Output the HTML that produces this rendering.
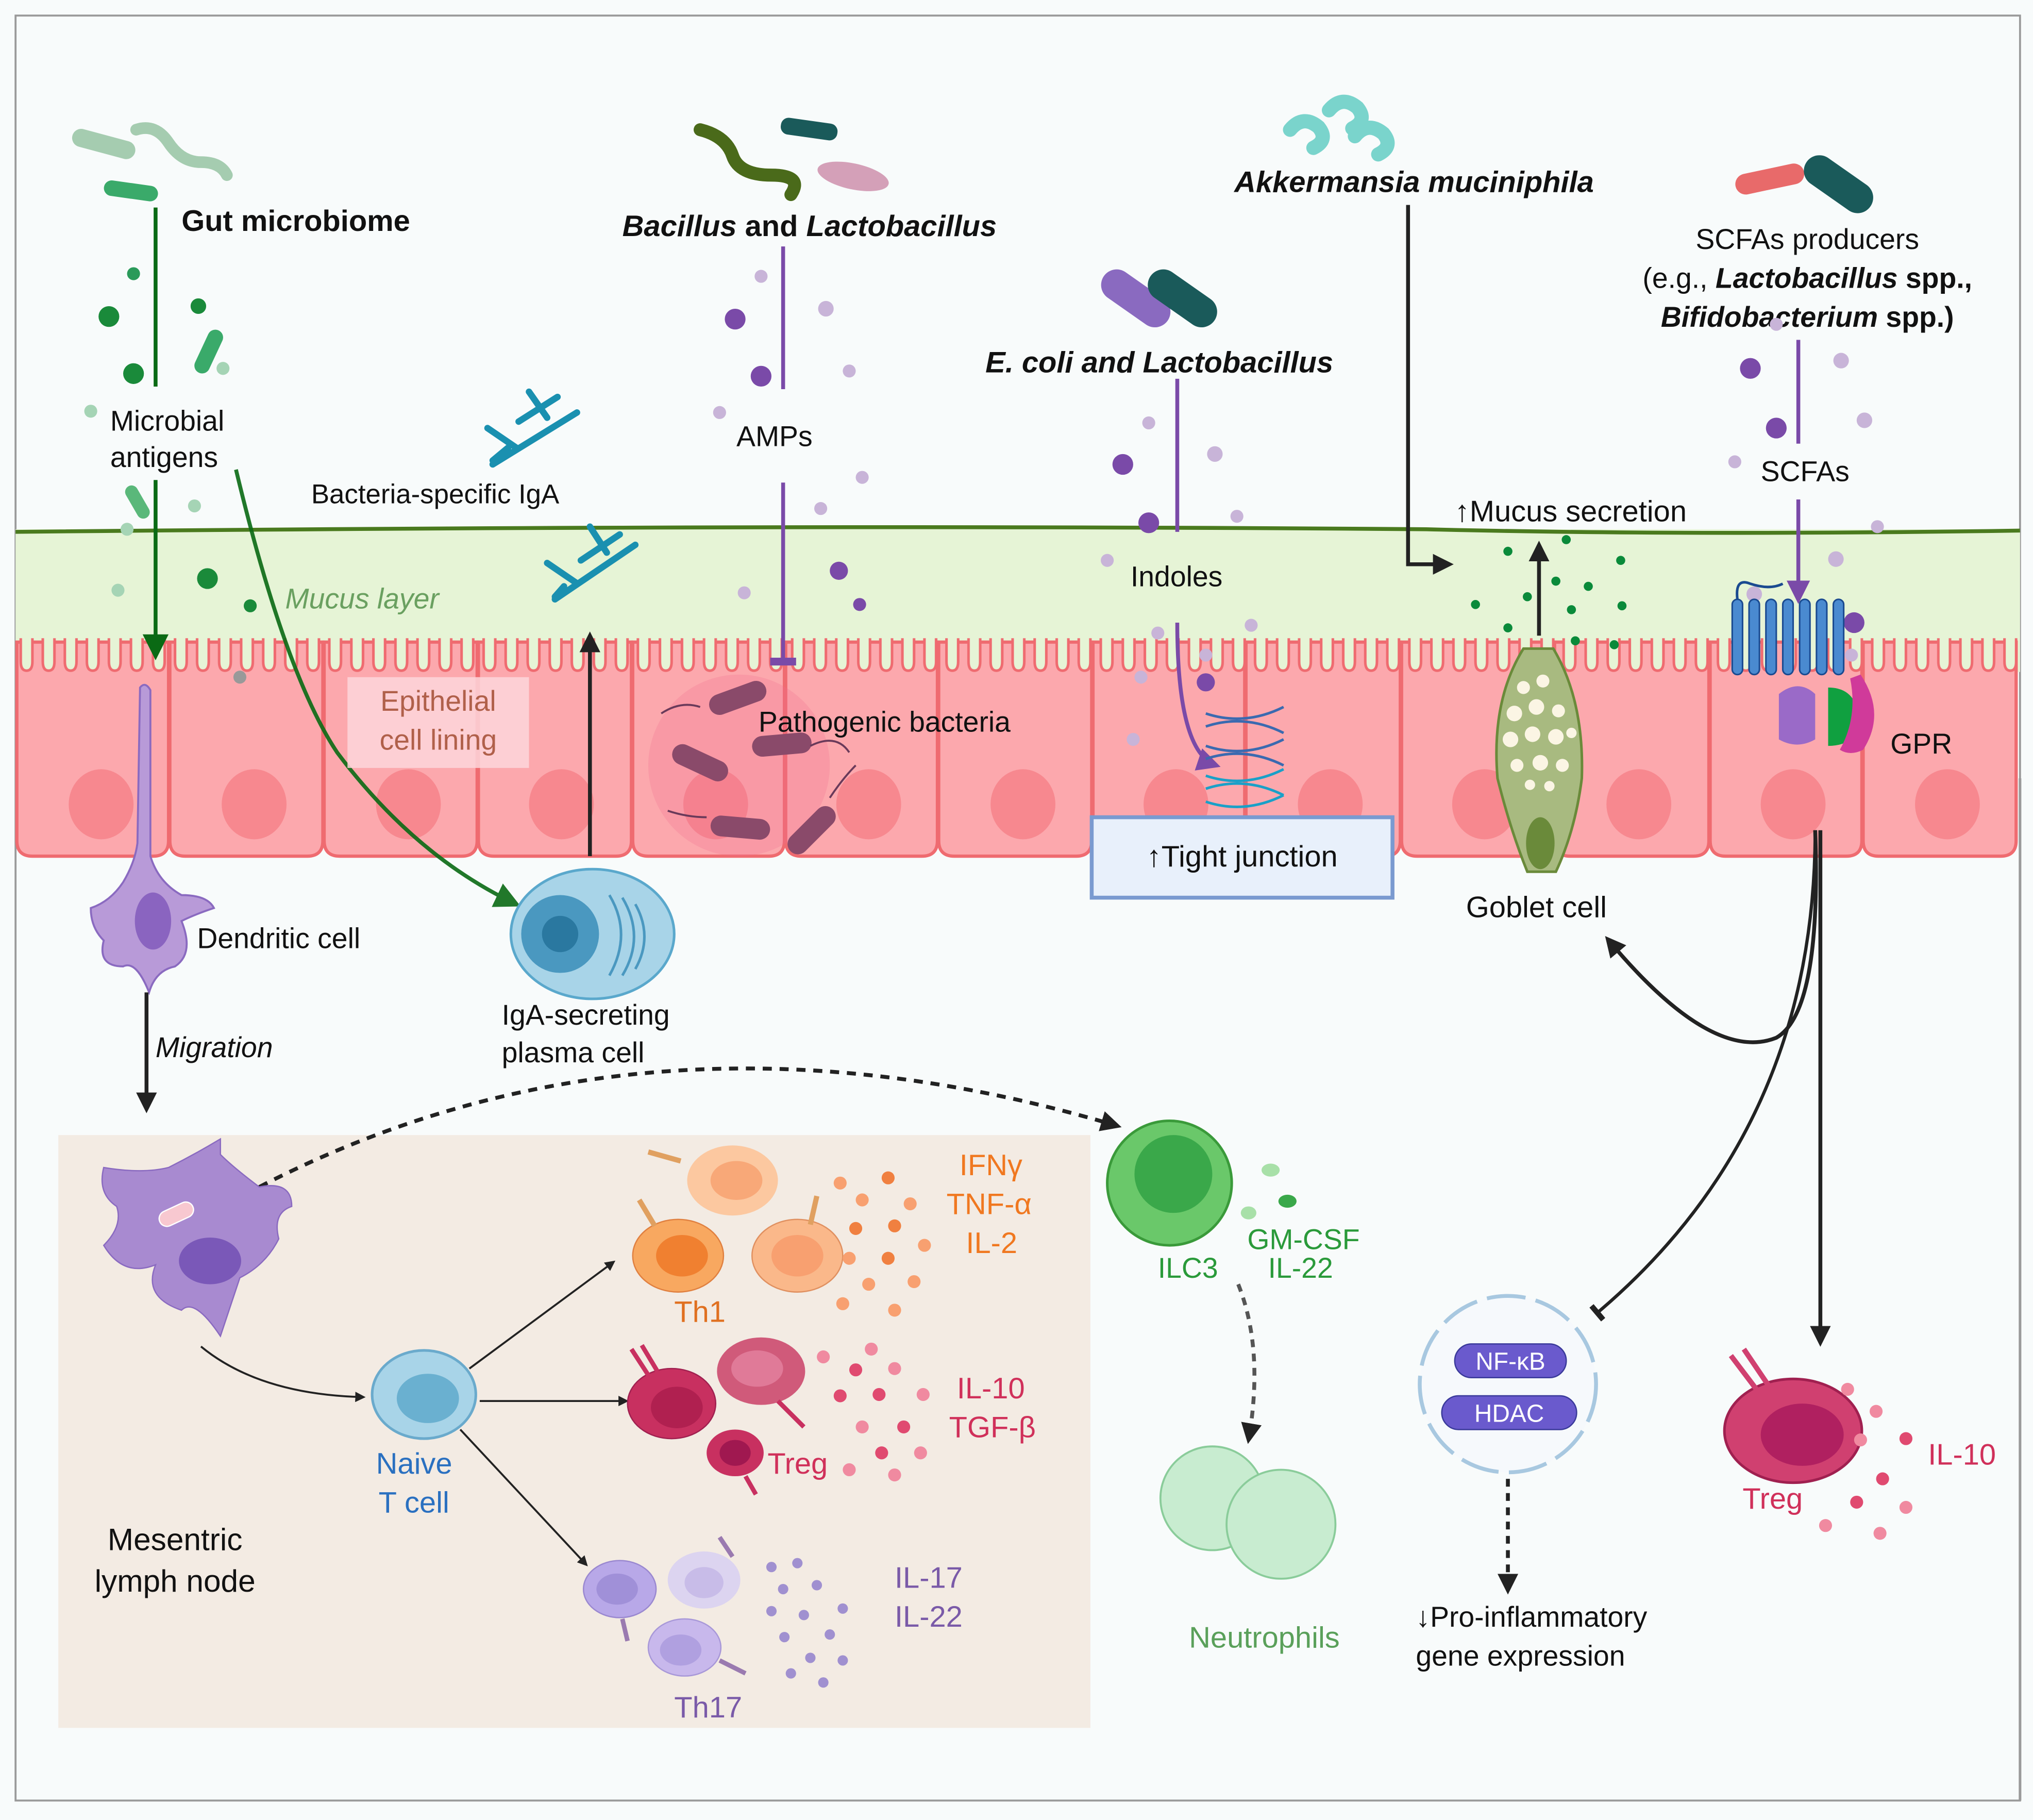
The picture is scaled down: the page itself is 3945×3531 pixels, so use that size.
<!DOCTYPE html>
<html><head><meta charset="utf-8"><style>
html,body{margin:0;padding:0;background:#fff}
svg{display:block}
text{font-family:"Liberation Sans",sans-serif}
</style></head><body>
<svg width="3945" height="3531" viewBox="0 0 1568 1403" preserveAspectRatio="none" xmlns="http://www.w3.org/2000/svg">
<defs>
<marker id="ab" markerWidth="8" markerHeight="8" refX="6" refY="4" orient="auto" markerUnits="userSpaceOnUse"><path d="M0,0 L8,4 L0,8z" fill="#222"/></marker>
<marker id="abk" viewBox="0 0 10 10" markerWidth="16" markerHeight="16" refX="8" refY="5" orient="auto" markerUnits="userSpaceOnUse"><path d="M0,0 L10,5 L0,10z" fill="#222"/></marker>
<marker id="ag" viewBox="0 0 10 10" markerWidth="20" markerHeight="20" refX="8" refY="5" orient="auto" markerUnits="userSpaceOnUse"><path d="M0,0 L10,5 L0,10z" fill="#0a6a14"/></marker>
<marker id="ap" viewBox="0 0 10 10" markerWidth="18" markerHeight="18" refX="8" refY="5" orient="auto" markerUnits="userSpaceOnUse"><path d="M0,0 L10,5 L0,10z" fill="#7a4aa8"/></marker>
<marker id="tb" viewBox="0 0 10 10" markerWidth="14" markerHeight="14" refX="5" refY="5" orient="auto" markerUnits="userSpaceOnUse"><path d="M5,0 L5,10" stroke="#222" stroke-width="3"/></marker>
<marker id="tp" viewBox="0 0 10 10" markerWidth="20" markerHeight="20" refX="5" refY="5" orient="auto" markerUnits="userSpaceOnUse"><path d="M5,0 L5,10" stroke="#7a4aa8" stroke-width="3"/></marker>
<pattern id="vil" x="12" y="0" width="17" height="40" patternUnits="userSpaceOnUse">
<path d="M4,492 L4,510 Q4,517 8.5,517 Q13,517 13,510 L13,492" fill="#e6f4d6" stroke="#ef6b70" stroke-width="2" transform="translate(0,-480)"/>
</pattern>
</defs>
<rect width="1568" height="1403" fill="#f8fbfb"/>
<rect x="12" y="12" width="1546" height="1376" fill="#f8fbfb" stroke="#9a9a9a" stroke-width="1.5"/>
<!-- mucus -->
<rect x="12" y="408" width="1546" height="110" fill="#e6f4d6"/>
<path d="M12,410 Q600,404 1100,408 Q1300,413 1558,409" stroke="#4a7a1e" stroke-width="3" fill="none"/>
<!-- cells -->
<g fill="#fca8ad" stroke="#ef6b70" stroke-width="2.5">
<path d="M13,495 L130,495 L130,648 Q130,660 118,660 L25,660 Q13,660 13,648z"/>
<path d="M131,495 L249,495 L249,648 Q249,660 237,660 L143,660 Q131,660 131,648z"/>
<path d="M250,495 L368,495 L368,648 Q368,660 356,660 L262,660 Q250,660 250,648z"/>
<path d="M369,495 L487,495 L487,648 Q487,660 475,660 L381,660 Q369,660 369,648z"/>
<path d="M488,495 L605,495 L605,648 Q605,660 593,660 L500,660 Q488,660 488,648z"/>
<path d="M606,495 L723,495 L723,648 Q723,660 711,660 L618,660 Q606,660 606,648z"/>
<path d="M724,495 L842,495 L842,648 Q842,660 830,660 L736,660 Q724,660 724,648z"/>
<path d="M843,495 L960,495 L960,648 Q960,660 948,660 L855,660 Q843,660 843,648z"/>
<path d="M961,495 L1080,495 L1080,648 Q1080,660 1068,660 L973,660 Q961,660 961,648z"/>
<path d="M1081,495 L1198,495 L1198,648 Q1198,660 1186,660 L1093,660 Q1081,660 1081,648z"/>
<path d="M1199,495 L1318,495 L1318,648 Q1318,660 1306,660 L1211,660 Q1199,660 1199,648z"/>
<path d="M1319,495 L1436,495 L1436,648 Q1436,660 1424,660 L1331,660 Q1319,660 1319,648z"/>
<path d="M1437,495 L1555,495 L1555,648 Q1555,660 1543,660 L1449,660 Q1437,660 1437,648z"/>
</g>
<rect x="12" y="490" width="1544" height="40" fill="url(#vil)"/>
<g fill="#f7888f">
<ellipse cx="78" cy="620" rx="25" ry="27"/><ellipse cx="196" cy="620" rx="25" ry="27"/><ellipse cx="315" cy="620" rx="25" ry="27"/><ellipse cx="433" cy="620" rx="25" ry="27"/><ellipse cx="552" cy="620" rx="25" ry="27"/><ellipse cx="670" cy="620" rx="25" ry="27"/><ellipse cx="789" cy="620" rx="25" ry="27"/><ellipse cx="907" cy="620" rx="25" ry="27"/><ellipse cx="1026" cy="620" rx="25" ry="27"/><ellipse cx="1145" cy="620" rx="25" ry="27"/><ellipse cx="1264" cy="620" rx="25" ry="27"/><ellipse cx="1383" cy="620" rx="25" ry="27"/><ellipse cx="1502" cy="620" rx="25" ry="27"/>
</g>
<path d="M1558,600 L1558,1388" stroke="#9a9a9a" stroke-width="2"/>
<!-- lymph node box -->
<rect x="45" y="875" width="796" height="457" fill="#f3ebe3"/>

<!-- Gut microbiome -->
<rect x="55" y="104" width="50" height="14" rx="7" fill="#a5ccb0" transform="rotate(15 80 111)"/>
<path d="M105,100 q15,-5 25,10 t25,15 t20,10" stroke="#a5ccb0" stroke-width="9" fill="none" stroke-linecap="round"/>
<rect x="80" y="141" width="42" height="12" rx="6" fill="#3aaa6a" transform="rotate(8 100 147)"/>
<text x="140" y="178" font-size="23" font-weight="bold" fill="#111">Gut microbiome</text>
<path d="M120,160 L120,298" stroke="#0a6a14" stroke-width="3"/>
<path d="M120,370 L120,505" stroke="#0a6a14" stroke-width="3" marker-end="url(#ag)"/>
<g fill="#1a8a3a"><circle cx="103" cy="211" r="5" fill="#2a9a5a"/><circle cx="84" cy="244" r="8"/><circle cx="153" cy="236" r="6"/><circle cx="103" cy="288" r="8"/><circle cx="160" cy="446" r="8"/><circle cx="193" cy="467" r="5"/></g>
<g fill="#a5d4b5"><circle cx="172" cy="284" r="5"/><circle cx="70" cy="317" r="5"/><circle cx="150" cy="390" r="5"/><circle cx="98" cy="408" r="5"/><circle cx="91" cy="455" r="5"/><circle cx="185" cy="522" r="5" fill="#999"/></g>
<rect x="143" y="265" width="36" height="12" rx="6" fill="#3aaa6a" transform="rotate(-65 161 271)"/>
<rect x="92" y="382" width="28" height="10" rx="5" fill="#5ab87a" transform="rotate(60 106 387)"/>
<text x="85" y="332" font-size="22" fill="#111">Microbial</text>
<text x="85" y="360" font-size="22" fill="#111">antigens</text>
<path d="M182,362 Q220,520 260,580 Q320,660 398,697" stroke="#0a6a14" stroke-width="3" fill="none" marker-end="url(#ag)" opacity="0.9"/>
<text x="220" y="469" font-size="22" font-style="italic" fill="#6aa060">Mucus layer</text>
<!-- Epithelial label -->
<rect x="268" y="522" width="140" height="70" fill="#fdd6da" opacity="0.85"/>
<text x="338" y="548" font-size="22" fill="#b0604a" text-anchor="middle">Epithelial</text>
<text x="338" y="578" font-size="22" fill="#b0604a" text-anchor="middle">cell lining</text>
<!-- IgA -->
<g stroke="#1a90b0" stroke-width="5" stroke-linecap="round" fill="none">
<path d="M380,358 L445,318 M376,330 L398,345 M408,302 L422,322 M400,325 L430,306 M392,345 L380,355"/>
<path d="M428,462 L490,420 M422,434 L444,449 M455,406 L468,426 M448,432 L478,412 M435,452 L428,460"/>
</g>
<text x="240" y="388" font-size="21" fill="#111">Bacteria-specific IgA</text>
<path d="M455,660 L455,490" stroke="#222" stroke-width="3" marker-end="url(#abk)"/>
<!-- dendritic cell epith -->
<path d="M108,530 Q112,525 116,532 L116,660 Q122,680 140,690 Q160,690 165,700 Q150,705 140,710 Q150,735 135,745 Q120,748 115,765 Q105,740 95,745 Q75,745 80,725 Q70,715 70,700 Q85,695 95,680 Q104,665 106,650z" fill="#b89ad8" stroke="#8a6ac0" stroke-width="1.5"/>
<ellipse cx="118" cy="710" rx="14" ry="22" fill="#8a64c0"/>
<text x="152" y="731" font-size="22" fill="#111">Dendritic cell</text>
<path d="M113,765 L113,855" stroke="#222" stroke-width="3" marker-end="url(#abk)"/>
<text x="120" y="815" font-size="22" font-style="italic" fill="#111">Migration</text>
<!-- plasma cell -->
<ellipse cx="457" cy="720" rx="63" ry="50" fill="#a8d4e8" stroke="#5aa8cc" stroke-width="2"/>
<circle cx="432" cy="720" r="30" fill="#4a98c0"/>
<circle cx="432" cy="720" r="14" fill="#2a78a0"/>
<path d="M470,690 q18,30 0,62 M480,692 q18,30 0,60 M490,697 q14,25 0,50" stroke="#4a98c0" stroke-width="2" fill="none"/>
<text x="387" y="790" font-size="22" fill="#111">IgA-secreting</text>
<text x="387" y="819" font-size="22" fill="#111">plasma cell</text>
<!-- Bacillus -->
<path d="M540,100 q20,5 25,20 t30,15 t15,15" stroke="#4a6a1a" stroke-width="10" fill="none" stroke-linecap="round"/>
<rect x="602" y="93" width="44" height="13" rx="6" fill="#1a5a5a" transform="rotate(8 624 100)"/>
<ellipse cx="658" cy="136" rx="28" ry="10" fill="#d4a0b8" transform="rotate(12 658 136)"/>
<text x="480" y="182" font-size="23" font-weight="bold" fill="#111"><tspan font-style="italic">Bacillus</tspan> and <tspan font-style="italic">Lactobacillus</tspan></text>
<path d="M604,190 L604,300" stroke="#7a4aa8" stroke-width="3"/>
<path d="M604,372 L604,510" stroke="#7a4aa8" stroke-width="3" marker-end="url(#tp)"/>
<g fill="#7a4aa8"><circle cx="567" cy="246" r="8"/><circle cx="587" cy="290" r="8"/><circle cx="647" cy="440" r="7"/><circle cx="663" cy="466" r="5"/></g>
<g fill="#c8b4d8"><circle cx="587" cy="213" r="5"/><circle cx="637" cy="238" r="6"/><circle cx="655" cy="286" r="5"/><circle cx="555" cy="318" r="5"/><circle cx="665" cy="368" r="5"/><circle cx="633" cy="392" r="5"/><circle cx="574" cy="457" r="5"/></g>
<text x="568" y="344" font-size="22" fill="#111">AMPs</text>
<!-- pathogenic bacteria -->
<ellipse cx="570" cy="590" rx="70" ry="70" fill="#f06a90" opacity="0.25"/>
<g fill="#8a4a6a">
<rect x="546" y="530" width="46" height="16" rx="8" transform="rotate(-20 569 538)"/>
<rect x="517" y="580" width="46" height="16" rx="8" transform="rotate(25 540 588)"/>
<rect x="580" y="566" width="46" height="16" rx="8" transform="rotate(-5 603 574)"/>
<rect x="548" y="630" width="46" height="16" rx="8" transform="rotate(5 571 638)"/>
<rect x="603" y="632" width="46" height="16" rx="8" transform="rotate(-45 626 640)"/>
</g>
<path d="M510,550 q15,-10 30,-5 M515,625 q15,5 30,5 M625,575 q20,-10 30,5 M640,615 q10,-15 20,-25" stroke="#6a3a5a" stroke-width="1.5" fill="none"/>
<text x="585" y="564" font-size="22" fill="#111">Pathogenic bacteria</text>
<!-- E coli -->
<rect x="846" y="218" width="60" height="24" rx="12" fill="#8a6ac0" transform="rotate(35 876 230)"/>
<rect x="882" y="218" width="60" height="24" rx="12" fill="#1a5a5a" transform="rotate(35 912 230)"/>
<text x="760" y="287" font-size="23" font-weight="bold" font-style="italic" fill="#111">E. coli and Lactobacillus</text>
<path d="M908,292 L908,410" stroke="#7a4aa8" stroke-width="3"/>
<path d="M908,480 Q908,580 938,590" stroke="#7a4aa8" stroke-width="3" fill="none" marker-end="url(#ap)"/>
<g fill="#7a4aa8"><circle cx="866" cy="358" r="8"/><circle cx="886" cy="403" r="8"/><circle cx="930" cy="526" r="7"/></g>
<g fill="#c8b4d8"><circle cx="886" cy="326" r="5"/><circle cx="937" cy="350" r="6"/><circle cx="954" cy="398" r="5"/><circle cx="854" cy="432" r="5"/><circle cx="893" cy="488" r="5"/><circle cx="965" cy="482" r="5"/><circle cx="880" cy="522" r="5"/><circle cx="874" cy="570" r="5"/><circle cx="930" cy="505" r="5"/></g>
<text x="872" y="452" font-size="22" fill="#111">Indoles</text>
<g stroke="#3a6ab0" stroke-width="2" fill="none"><path d="M930,550 q30,10 60,-5 M930,560 q30,-10 60,5 M930,575 q30,10 60,-5 M930,585 q30,-10 60,5"/></g>
<g stroke="#1aa0c8" stroke-width="2" fill="none"><path d="M930,598 q30,10 60,-5 M930,608 q30,-10 60,5 M930,618 q30,10 60,-5"/></g>
<rect x="842" y="630" width="232" height="62" fill="#e8f0fb" stroke="#7a9ad0" stroke-width="3"/>
<text x="958" y="668" font-size="23" fill="#111" text-anchor="middle">↑Tight junction</text>
<!-- Akkermansia -->
<g stroke="#7ad4cc" stroke-width="11" fill="none" stroke-linecap="round"><path d="M995,100 q10,-12 22,-2 q8,10 -4,16"/><path d="M1025,85 q10,-12 22,-2 q8,10 -4,16"/><path d="M1045,105 q10,-12 22,-2 q8,10 -4,16"/></g>
<text x="952" y="148" font-size="23" font-weight="bold" font-style="italic" fill="#111">Akkermansia muciniphila</text>
<path d="M1086,158 L1086,435 L1118,435" stroke="#222" stroke-width="3" fill="none" marker-end="url(#abk)"/>
<text x="1122" y="402" font-size="23" fill="#111">↑Mucus secretion</text>
<path d="M1187,490 L1187,420" stroke="#222" stroke-width="3" marker-end="url(#abk)"/>
<g fill="#0a8a3a"><circle cx="1163" cy="425" r="3.5"/><circle cx="1208" cy="416" r="3.5"/><circle cx="1250" cy="432" r="3.5"/><circle cx="1200" cy="448" r="3.5"/><circle cx="1225" cy="452" r="3.5"/><circle cx="1138" cy="466" r="3.5"/><circle cx="1178" cy="460" r="3.5"/><circle cx="1212" cy="470" r="3.5"/><circle cx="1251" cy="467" r="3.5"/><circle cx="1163" cy="484" r="3.5"/><circle cx="1215" cy="494" r="3.5"/><circle cx="1245" cy="497" r="3.5"/><circle cx="1188" cy="508" r="3.5"/></g>
<!-- goblet -->
<path d="M1175,500 Q1150,540 1155,600 Q1165,640 1178,672 L1200,672 Q1215,640 1220,600 Q1222,540 1198,500z" fill="#a8ba80" stroke="#6a8a3a" stroke-width="2"/>
<g fill="#fbf5e4"><circle cx="1175" cy="530" r="5"/><circle cx="1190" cy="525" r="5"/><circle cx="1168" cy="550" r="6"/><circle cx="1185" cy="545" r="6"/><circle cx="1202" cy="548" r="5"/><circle cx="1165" cy="570" r="6"/><circle cx="1182" cy="566" r="6"/><circle cx="1200" cy="568" r="6"/><circle cx="1212" cy="565" r="4"/><circle cx="1170" cy="590" r="5"/><circle cx="1188" cy="588" r="6"/><circle cx="1205" cy="590" r="5"/><circle cx="1180" cy="605" r="4"/><circle cx="1195" cy="606" r="4"/></g>
<ellipse cx="1188" cy="650" rx="11" ry="20" fill="#6a8a3a"/>
<text x="1185" y="707" font-size="23" fill="#111" text-anchor="middle">Goblet cell</text>
<!-- SCFA -->
<rect x="1338" y="130" width="54" height="16" rx="8" fill="#e86a6a" transform="rotate(-12 1365 138)"/>
<rect x="1388" y="130" width="60" height="24" rx="12" fill="#1a5a5a" transform="rotate(35 1418 142)"/>
<text x="1394" y="192" font-size="22" fill="#111" text-anchor="middle">SCFAs producers</text>
<text x="1394" y="222" font-size="22" fill="#111" text-anchor="middle">(e.g.,  <tspan font-weight="bold" font-style="italic">Lactobacillus</tspan><tspan font-weight="bold"> spp.,</tspan></text>
<text x="1394" y="252" font-size="22" fill="#111" text-anchor="middle"><tspan font-weight="bold" font-style="italic">Bifidobacterium</tspan><tspan font-weight="bold"> spp.)</tspan></text>
<path d="M1387,262 L1387,342" stroke="#7a4aa8" stroke-width="3"/>
<path d="M1387,385 L1387,462" stroke="#7a4aa8" stroke-width="3" marker-end="url(#ap)"/>
<text x="1358" y="371" font-size="22" fill="#111">SCFAs</text>
<g fill="#7a4aa8"><circle cx="1350" cy="284" r="8"/><circle cx="1370" cy="330" r="8"/><circle cx="1430" cy="480" r="8"/></g>
<g fill="#c8b4d8"><circle cx="1370" cy="250" r="5"/><circle cx="1420" cy="278" r="6"/><circle cx="1438" cy="324" r="6"/><circle cx="1338" cy="356" r="5"/><circle cx="1448" cy="406" r="5"/><circle cx="1416" cy="431" r="6"/><circle cx="1353" cy="458" r="6"/><circle cx="1428" cy="505" r="5"/></g>
<g fill="#4a8ad0" stroke="#1a4a90" stroke-width="1.2"><rect x="1336" y="462" width="8" height="58" rx="4"/><rect x="1349" y="462" width="8" height="58" rx="4"/><rect x="1362" y="462" width="8" height="58" rx="4"/><rect x="1375" y="462" width="8" height="58" rx="4"/><rect x="1388" y="462" width="8" height="58" rx="4"/><rect x="1401" y="462" width="8" height="58" rx="4"/><rect x="1414" y="462" width="8" height="58" rx="4"/></g>
<path d="M1340,462 Q1338,445 1350,450 Q1365,455 1375,450" stroke="#1a4a90" stroke-width="2" fill="none"/>
<path d="M1372,535 q15,-12 28,0 l0,35 q-14,8 -28,0z" fill="#9a6ac8"/>
<path d="M1410,530 q22,0 24,25 q-2,20 -24,20z" fill="#10a040"/>
<path d="M1435,520 q20,30 2,58 q-10,5 -18,0 q14,-25 8,-55z" fill="#d03a9a"/>
<text x="1458" y="581" font-size="22" fill="#111">GPR</text>
<!-- gray lines from GPR -->
<path d="M1400,640 Q1405,780 1370,800 Q1320,820 1240,724" stroke="#222" stroke-width="3" fill="none" marker-end="url(#abk)"/>
<path d="M1400,640 Q1400,870 1232,1012" stroke="#222" stroke-width="2.5" fill="none" marker-end="url(#tb)"/>
<path d="M1404,640 L1404,1035" stroke="#222" stroke-width="3" marker-end="url(#abk)"/>
<!-- nucleus -->
<circle cx="1163" cy="1067" r="68" fill="#f6f9fc" stroke="#a8c8e0" stroke-width="3" stroke-dasharray="30 8"/>
<rect x="1122" y="1036" width="86" height="26" rx="13" fill="#6a5acd" stroke="#3a3a9a"/>
<text x="1165" y="1056" font-size="19" fill="#fff" text-anchor="middle">NF-κB</text>
<rect x="1112" y="1076" width="104" height="26" rx="13" fill="#6a5acd" stroke="#3a3a9a"/>
<text x="1164" y="1096" font-size="19" fill="#fff" text-anchor="middle">HDAC</text>
<path d="M1163,1140 L1163,1226" stroke="#222" stroke-width="3" stroke-dasharray="6 5" marker-end="url(#abk)"/>
<text x="1092" y="1254" font-size="22" fill="#111">↓Pro-inflammatory</text>
<text x="1092" y="1284" font-size="22" fill="#111">gene expression</text>
<!-- Treg right -->
<ellipse cx="1383" cy="1103" rx="53" ry="40" fill="#d04070" stroke="#a02050" stroke-width="2"/>
<ellipse cx="1390" cy="1106" rx="32" ry="24" fill="#b02060"/>
<path d="M1335,1045 L1360,1078 M1345,1040 L1368,1074" stroke="#d04070" stroke-width="4"/>
<g fill="#f08aa0"><circle cx="1425" cy="1071" r="5"/><circle cx="1447" cy="1088" r="5"/><circle cx="1470" cy="1109" r="5" fill="#e04a70"/><circle cx="1435" cy="1110" r="5"/><circle cx="1452" cy="1140" r="5" fill="#e04a70"/><circle cx="1470" cy="1162" r="5"/><circle cx="1408" cy="1176" r="5"/><circle cx="1432" cy="1158" r="5" fill="#e04a70"/><circle cx="1450" cy="1182" r="5"/></g>
<text x="1487" y="1129" font-size="23" fill="#d0305a">IL-10</text>
<text x="1344" y="1163" font-size="23" fill="#d0305a">Treg</text>
<!-- ILC3 -->
<path d="M200,915 Q500,760 862,868" stroke="#222" stroke-width="3" fill="none" stroke-dasharray="7 6" marker-end="url(#abk)"/>
<circle cx="902" cy="912" r="48" fill="#6ac86a" stroke="#3a9a3a" stroke-width="2"/>
<circle cx="905" cy="905" r="30" fill="#3aa84a"/>
<ellipse cx="980" cy="902" rx="7" ry="5" fill="#a8e0a8"/><ellipse cx="993" cy="926" rx="7" ry="5" fill="#3aa84a"/><ellipse cx="963" cy="935" rx="6" ry="5" fill="#a8e0a8"/>
<text x="893" y="985" font-size="22" fill="#2a9a3a">ILC3</text>
<text x="962" y="963" font-size="22" fill="#2a9a3a">GM-CSF</text>
<text x="978" y="985" font-size="22" fill="#2a9a3a">IL-22</text>
<path d="M955,990 Q975,1040 963,1110" stroke="#555" stroke-width="3" fill="none" stroke-dasharray="6 5" marker-end="url(#abk)"/>
<circle cx="935" cy="1155" r="40" fill="#c8ecd0" stroke="#8acc9a" stroke-width="1.5"/>
<circle cx="988" cy="1175" r="42" fill="#c8ecd0" stroke="#8acc9a" stroke-width="1.5"/>
<text x="917" y="1270" font-size="23" fill="#5aa05a">Neutrophils</text>
<!-- lymph node contents -->
<path d="M170,890 Q180,900 200,915 Q225,910 225,930 Q210,935 215,955 Q205,975 185,985 L170,1030 Q150,1000 140,1010 Q110,1000 120,975 Q95,985 80,960 Q95,945 90,930 Q75,920 80,900 Q110,905 130,900 Q150,890 170,878z" fill="#a88ad0" stroke="#8a6ac0"/>
<ellipse cx="162" cy="972" rx="24" ry="18" fill="#7a58b8"/>
<rect x="122" y="930" width="28" height="12" rx="6" fill="#f8c8d0" stroke="#fff" transform="rotate(-25 136 936)"/>
<path d="M155,1038 Q200,1075 280,1077" stroke="#222" stroke-width="1.5" fill="none" marker-end="url(#ab)"/>
<ellipse cx="327" cy="1075" rx="40" ry="34" fill="#a8d4e8" stroke="#6aaacc" stroke-width="2"/>
<ellipse cx="330" cy="1078" rx="24" ry="19" fill="#6ab0d0"/>
<text x="290" y="1136" font-size="23" fill="#2a70c0">Naive</text>
<text x="292" y="1166" font-size="23" fill="#2a70c0">T cell</text>
<path d="M362,1055 L473,973" stroke="#222" stroke-width="1.5" marker-end="url(#ab)"/>
<path d="M370,1080 L483,1080" stroke="#222" stroke-width="1.5" marker-end="url(#ab)"/>
<path d="M355,1102 L452,1206" stroke="#222" stroke-width="1.5" marker-end="url(#ab)"/>
<!-- Th1 -->
<ellipse cx="565" cy="910" rx="35" ry="27" fill="#fcc8a0"/><ellipse cx="568" cy="910" rx="20" ry="15" fill="#f8a878"/>
<ellipse cx="523" cy="968" rx="35" ry="28" fill="#f8a860" stroke="#e08040"/><ellipse cx="526" cy="968" rx="20" ry="16" fill="#f08030"/>
<ellipse cx="615" cy="968" rx="35" ry="28" fill="#fab88a" stroke="#e09060"/><ellipse cx="615" cy="968" rx="20" ry="16" fill="#f8a070"/>
<path d="M500,888 L525,895 M493,925 L505,945 M630,922 L625,944" stroke="#e0a060" stroke-width="4"/>
<g fill="#f8a070"><circle cx="648" cy="912" r="5"/><circle cx="685" cy="908" r="5" fill="#f08040"/><circle cx="665" cy="925" r="5"/><circle cx="702" cy="928" r="5"/><circle cx="660" cy="947" r="5" fill="#f08040"/><circle cx="690" cy="945" r="5" fill="#f08040"/><circle cx="713" cy="960" r="5"/><circle cx="655" cy="970" r="5"/><circle cx="685" cy="970" r="5" fill="#f08040"/><circle cx="705" cy="988" r="5"/><circle cx="670" cy="990" r="5"/><circle cx="650" cy="1005" r="5"/><circle cx="690" cy="1010" r="5"/></g>
<text x="520" y="1019" font-size="23" fill="#e07020">Th1</text>
<text x="740" y="906" font-size="23" fill="#f07820">IFNγ</text>
<text x="730" y="936" font-size="23" fill="#f07820">TNF-α</text>
<text x="745" y="966" font-size="23" fill="#f07820">IL-2</text>
<!-- Treg -->
<ellipse cx="587" cy="1057" rx="34" ry="26" fill="#d05a7a"/><ellipse cx="584" cy="1055" rx="20" ry="14" fill="#e07a98"/>
<ellipse cx="518" cy="1082" rx="34" ry="27" fill="#c83060" stroke="#a02050"/><ellipse cx="522" cy="1085" rx="20" ry="16" fill="#b02050"/>
<ellipse cx="567" cy="1120" rx="22" ry="18" fill="#c83060"/><ellipse cx="567" cy="1120" rx="12" ry="10" fill="#a01850"/>
<path d="M487,1040 L500,1060 M495,1037 L507,1057 M600,1080 L620,1100 M575,1138 L583,1152" stroke="#c83060" stroke-width="3.5"/>
<g fill="#f08aa0"><circle cx="635" cy="1046" r="5"/><circle cx="672" cy="1040" r="5"/><circle cx="660" cy="1056" r="5" fill="#e04a70"/><circle cx="690" cy="1055" r="5"/><circle cx="648" cy="1076" r="5" fill="#e04a70"/><circle cx="678" cy="1075" r="5" fill="#e04a70"/><circle cx="712" cy="1075" r="5"/><circle cx="665" cy="1100" r="5"/><circle cx="697" cy="1100" r="5" fill="#e04a70"/><circle cx="655" cy="1133" r="5"/><circle cx="680" cy="1120" r="5" fill="#e04a70"/><circle cx="710" cy="1120" r="5"/><circle cx="690" cy="1137" r="5"/></g>
<text x="592" y="1136" font-size="23" fill="#d0305a">Treg</text>
<text x="738" y="1078" font-size="23" fill="#d0305a">IL-10</text>
<text x="732" y="1108" font-size="23" fill="#d0305a">TGF-β</text>
<!-- Th17 -->
<ellipse cx="478" cy="1225" rx="28" ry="22" fill="#b8a8e8" stroke="#9a88d0"/><ellipse cx="476" cy="1225" rx="16" ry="12" fill="#a090d8"/>
<ellipse cx="543" cy="1218" rx="28" ry="22" fill="#dcd4f0"/><ellipse cx="543" cy="1220" rx="15" ry="12" fill="#c8bce8"/>
<ellipse cx="528" cy="1270" rx="28" ry="22" fill="#c8b8ec" stroke="#a898d8"/><ellipse cx="525" cy="1272" rx="16" ry="12" fill="#b0a0e0"/>
<path d="M555,1185 L565,1200 M480,1248 L484,1265 M555,1280 L575,1290" stroke="#9a7ab0" stroke-width="3.5"/>
<g fill="#a090d0"><circle cx="595" cy="1208" r="4"/><circle cx="615" cy="1205" r="4"/><circle cx="630" cy="1222" r="4"/><circle cx="604" cy="1225" r="4"/><circle cx="650" cy="1240" r="4"/><circle cx="595" cy="1242" r="4"/><circle cx="620" cy="1245" r="4"/><circle cx="640" cy="1260" r="4"/><circle cx="605" cy="1262" r="4"/><circle cx="625" cy="1278" r="4"/><circle cx="650" cy="1280" r="4"/><circle cx="610" cy="1290" r="4"/><circle cx="635" cy="1297" r="4"/></g>
<text x="520" y="1324" font-size="23" fill="#7a5aa8">Th17</text>
<text x="690" y="1224" font-size="23" fill="#7a5aa8">IL-17</text>
<text x="690" y="1254" font-size="23" fill="#7a5aa8">IL-22</text>
<text x="135" y="1195" font-size="24" fill="#111" text-anchor="middle">Mesentric</text>
<text x="135" y="1227" font-size="24" fill="#111" text-anchor="middle">lymph node</text>
</svg>
</body></html>
